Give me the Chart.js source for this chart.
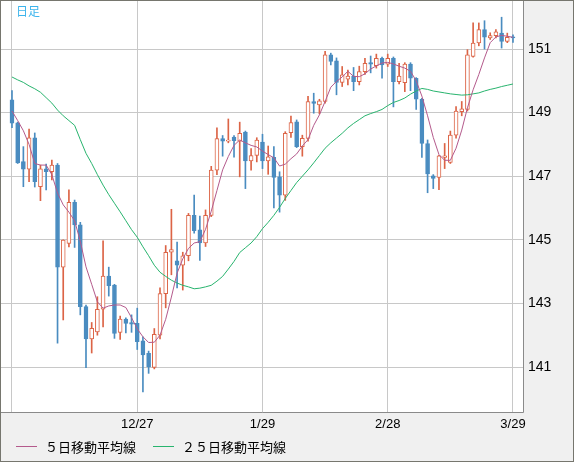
<!DOCTYPE html>
<html lang="ja">
<head>
<meta charset="UTF-8">
<title>日足</title>
<script src="https://cdn.jsdelivr.net/npm/chart.js"></script>
<style>
  html, body { margin: 0; padding: 0; background: #f0f0f0; }
  canvas { display: block; }
</style>
</head>
<body>
<canvas id="chart" width="574" height="462"></canvas>
<script>
// daily candles, 11/27 .. 3/29
const opens  = [149.40,148.68,147.46,147.22,148.21,146.67,147.23,147.14,147.35,144.14,
                144.89,146.18,145.47,142.90,141.88,142.10,142.82,143.86,143.58,142.09,
                142.51,142.40,142.37,141.82,141.43,140.99,142.00,143.31,144.61,144.34,
                144.20,144.50,145.77,145.31,144.90,145.77,147.19,148.18,148.10,148.23,
                148.10,148.39,147.48,147.65,148.07,147.48,147.59,146.98,146.40,148.37,
                148.71,147.93,148.19,149.35,149.24,149.35,150.82,150.63,149.95,150.05,
                150.15,149.97,150.29,150.57,150.48,150.71,150.52,150.71,149.97,149.94,
                150.53,150.08,149.42,148.03,147.01,146.96,147.59,147.43,148.29,149.03,
                149.10,150.77,151.19,151.61,151.35,151.42,151.50,151.24,151.38];
const highs  = [149.69,148.70,147.93,148.48,148.36,147.35,147.38,147.51,147.40,145.00,
                146.57,146.25,145.55,142.95,142.40,143.21,144.97,144.14,143.60,142.60,
                142.55,142.64,142.85,141.95,141.50,142.21,143.49,144.82,145.96,144.93,
                144.61,145.83,146.41,145.75,145.94,147.31,148.52,148.28,148.80,148.28,
                148.70,148.42,147.87,148.21,148.32,147.95,147.93,147.14,148.40,148.89,
                148.77,148.29,149.51,149.61,149.42,150.93,150.87,150.72,150.45,150.34,
                150.42,150.46,150.71,150.78,150.84,150.75,150.84,150.75,150.55,150.57,
                150.57,150.10,149.45,148.14,147.05,147.66,148.03,148.42,149.19,149.35,
                150.98,151.82,151.82,151.89,151.51,151.61,152.00,151.50,151.45];
const lows   = [148.53,147.40,146.67,146.83,146.66,146.23,146.57,146.88,141.75,142.48,
                144.78,144.76,142.64,140.98,141.44,142.00,142.26,143.23,141.90,141.87,
                142.07,142.09,141.55,140.22,140.80,140.94,141.88,142.86,143.90,143.49,
                143.42,144.34,145.21,144.35,144.79,145.73,147.05,147.63,148.05,147.60,
                146.98,146.61,147.19,147.45,147.24,147.06,146.00,145.87,146.24,148.22,
                147.90,147.63,148.10,148.98,148.96,149.30,150.50,149.56,149.82,149.87,
                149.69,149.87,150.20,150.25,150.40,150.08,150.45,149.18,149.90,149.66,
                149.69,149.10,147.59,146.48,146.61,146.58,147.24,147.40,148.20,148.90,
                149.05,150.74,151.10,151.00,151.30,151.35,151.03,151.20,151.21];
const closes = [148.67,147.42,147.22,148.21,146.83,147.23,147.14,147.35,144.14,144.99,
                146.18,145.47,142.90,141.88,142.22,142.81,143.86,143.56,142.06,142.51,
                142.37,142.35,141.80,141.38,141.00,142.03,143.31,144.61,144.69,144.20,
                144.50,145.77,145.29,144.90,145.77,147.19,148.18,148.10,148.14,148.12,
                148.35,147.48,147.65,148.14,147.48,147.61,146.96,146.40,148.35,148.69,
                147.93,148.19,149.35,149.29,149.37,150.82,150.61,149.95,150.19,150.15,
                149.97,150.29,150.55,150.52,150.71,150.50,150.71,149.97,150.15,150.53,
                150.08,149.42,148.03,147.07,146.93,147.64,147.64,148.29,149.05,149.12,
                150.82,151.19,151.61,151.37,151.42,151.54,151.24,151.37,151.35];
// moving averages as drawn
const ma5  = [149.05,148.75,148.43,148.00,147.40,147.35,147.35,147.05,146.47,146.10,
              145.87,145.60,144.95,144.15,143.60,143.05,142.85,142.92,142.95,142.95,
              142.87,142.55,142.20,141.95,141.77,141.78,142.00,142.50,143.20,143.95,
              144.40,144.73,144.90,144.94,145.33,145.90,146.55,147.20,147.62,147.97,
              148.14,148.05,147.97,147.92,147.79,147.68,147.58,147.32,147.38,147.55,
              147.70,147.95,148.15,148.60,148.93,149.35,149.80,149.98,150.12,150.30,
              150.14,150.13,150.22,150.37,150.47,150.56,150.58,150.53,150.46,150.40,
              150.30,150.00,149.52,148.90,148.22,147.68,147.50,147.50,147.88,148.45,
              149.15,149.72,150.20,150.72,151.20,151.38,151.43,151.40,151.37];
const ma25 = [150.12,150.03,149.95,149.84,149.75,149.64,149.47,149.30,149.08,148.90,
              148.75,148.60,148.15,147.72,147.40,147.05,146.72,146.42,146.15,145.88,
              145.60,145.32,145.08,144.78,144.50,144.20,143.98,143.85,143.73,143.64,
              143.57,143.52,143.46,143.48,143.52,143.57,143.70,143.85,144.08,144.32,
              144.60,144.75,144.90,145.10,145.35,145.55,145.77,146.02,146.30,146.55,
              146.80,147.00,147.20,147.42,147.65,147.88,148.05,148.20,148.35,148.52,
              148.66,148.78,148.90,148.97,149.03,149.10,149.22,149.32,149.38,149.46,
              149.58,149.68,149.76,149.73,149.68,149.65,149.62,149.59,149.57,149.55,
              149.56,149.59,149.62,149.68,149.73,149.77,149.82,149.86,149.90];

const xTickIdx = [0, 22, 44, 66, 88];
const xTickLabels = ['', '12/27', '1/29', '2/28', '3/29'];
const yTicks = [141, 143, 145, 147, 149, 151];

const UP = '#dc6446';
const DOWN = '#4a8cc0';
const idx = opens.map((_, i) => i);
const isUp = i => closes[i] >= opens[i];

const framePlugin = {
  id: 'frame',
  beforeDraw(chart) {
    const ctx = chart.ctx, a = chart.chartArea;
    ctx.save();
    ctx.fillStyle = '#f0f0f0';
    ctx.fillRect(0, 0, chart.width, chart.height);
    ctx.fillStyle = '#ffffff';
    ctx.fillRect(a.left, a.top, a.right - a.left, a.bottom - a.top);
    ctx.restore();
  },
  afterDraw(chart) {
    const ctx = chart.ctx, a = chart.chartArea;
    ctx.save();
    // plot border (right, bottom)
    ctx.strokeStyle = '#8a8a8a';
    ctx.lineWidth = 1;
    ctx.beginPath();
    ctx.moveTo(Math.round(a.right) + 0.5, a.top);
    ctx.lineTo(Math.round(a.right) + 0.5, Math.round(a.bottom) + 0.5);
    ctx.lineTo(a.left, Math.round(a.bottom) + 0.5);
    ctx.stroke();
    // outer frame
    ctx.strokeStyle = '#76766e';
    ctx.strokeRect(0.5, 0.5, chart.width - 1, chart.height - 1);

    // period label
    ctx.fillStyle = '#3cb4ec';
    ctx.font = '12px "Noto Sans CJK JP"';
    ctx.textBaseline = 'middle';
    ctx.fillText('日足', 16, 11);

    // legend
    ctx.font = '13px "Noto Sans CJK JP"';
    ctx.fillStyle = '#000';
    const items = [chart.data.datasets[2], chart.data.datasets[3]];
    const lx = [16, 153];
    items.forEach((ds, k) => {
      ctx.strokeStyle = ds.borderColor;
      ctx.beginPath();
      ctx.moveTo(lx[k], 446.5);
      ctx.lineTo(lx[k] + 21, 446.5);
      ctx.stroke();
      ctx.fillText(ds.label, lx[k] + 29, 447);
    });
    ctx.restore();
  }
};

new Chart(document.getElementById('chart'), {
  type: 'bar',
  data: {
    datasets: [
      {
        label: 'wick',
        data: idx.map(i => ({ x: i, y: [lows[i], highs[i]] })),
        backgroundColor: c => isUp(c.dataIndex) ? UP : DOWN,
        barThickness: 1,
        grouped: false,
        order: 3
      },
      {
        label: 'body',
        data: idx.map(i => ({ x: i, y: [opens[i], closes[i]] })),
        backgroundColor: c => isUp(c.dataIndex) ? '#ffffff' : DOWN,
        borderColor: c => isUp(c.dataIndex) ? UP : DOWN,
        borderWidth: 1,
        borderSkipped: false,
        barThickness: 4,
        minBarLength: 1,
        grouped: false,
        order: 2
      },
      {
        type: 'line',
        label: '５日移動平均線',
        data: idx.map(i => ({ x: i, y: ma5[i] })),
        borderColor: '#b45a8c',
        borderWidth: 1,
        pointRadius: 0,
        tension: 0,
        order: 0
      },
      {
        type: 'line',
        label: '２５日移動平均線',
        data: idx.map(i => ({ x: i, y: ma25[i] })),
        borderColor: '#28b46e',
        borderWidth: 1,
        pointRadius: 0,
        tension: 0,
        order: 1
      }
    ]
  },
  options: {
    responsive: false,
    devicePixelRatio: 1,
    animation: false,
    layout: { padding: { left: 1, top: 1, right: 0, bottom: 0 } },
    plugins: { legend: { display: false }, tooltip: { enabled: false } },
    scales: {
      x: {
        type: 'linear',
        offset: false,
        min: -1.93,
        max: 89.76,
        grid: { color: '#c8c8c8', drawTicks: false, offset: false },
        border: { display: false },
        afterBuildTicks: s => { s.ticks = xTickIdx.map(v => ({ value: v })); },
        afterFit: s => { s.height = 50; s.paddingLeft = 0; s.paddingRight = 0; },
        ticks: {
          autoSkip: false,
          maxRotation: 0,
          padding: 5,
          color: '#000',
          font: { family: 'Liberation Sans', size: 13 },
          callback: (v, i) => xTickLabels[i]
        }
      },
      y: {
        position: 'right',
        min: 139.585,
        max: 152.51,
        grid: { color: '#c8c8c8', drawTicks: false },
        border: { display: false },
        afterBuildTicks: s => { s.ticks = yTicks.map(v => ({ value: v })); },
        afterFit: s => { s.width = 51; s.paddingTop = 0; s.paddingBottom = 0; },
        ticks: {
          padding: 5,
          color: '#000',
          font: { family: 'Liberation Sans', size: 14 },
          callback: v => String(v)
        }
      }
    }
  },
  plugins: [framePlugin]
});
</script>
</body>
</html>
